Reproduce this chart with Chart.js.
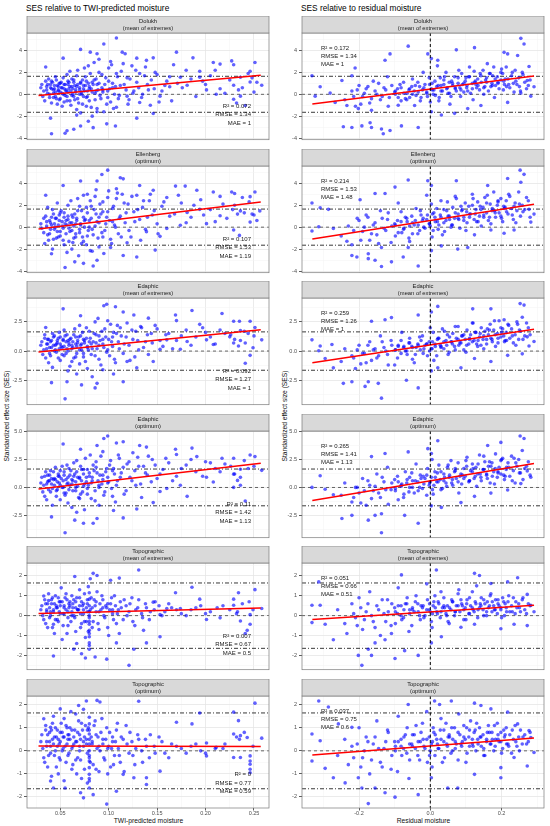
<!DOCTYPE html>
<html>
<head>
<meta charset="utf-8">
<script src="https://cdn.jsdelivr.net/npm/chart.js@4.4.1/dist/chart.umd.min.js"></script>
<style>
  body { margin: 0; background: #fff; font-family: "Liberation Sans", Arial, sans-serif; }
  #fig { position: relative; width: 550px; height: 826px; overflow: hidden; }
  .panel { position: absolute; }
  .txt { position: absolute; white-space: nowrap; color: #000; line-height: 1; }
  .ytitle { transform: translate(-50%, -50%) rotate(-90deg); }
  .xtitle { transform: translate(-50%, -50%); }
</style>
</head>
<body>
<div id="fig">
  <div class="txt" style="left:26px;top:3.5px;font-size:8.3px">SES relative to TWI-predicted moisture</div>
  <div class="txt" style="left:301px;top:3.5px;font-size:8.3px">SES relative to residual moisture</div>
  <div class="txt ytitle" style="left:7px;top:416px;font-size:6.7px;color:#111">Standardized effect size (SES)</div>
  <div class="txt ytitle" style="left:285px;top:416px;font-size:6.7px;color:#111">Standardized effect size (SES)</div>
  <div class="txt xtitle" style="left:148.5px;top:820.5px;font-size:6.7px;color:#111">TWI-predicted moisture</div>
  <div class="txt xtitle" style="left:423.5px;top:820.5px;font-size:6.7px;color:#111">Residual moisture</div>
</div>
<script>
// facet strips (one per row, same for both columns)
const stripLabels = [
  ['Dolukh', '(mean of extremes)'],
  ['Ellenberg', '(optimum)'],
  ['Edaphic', '(mean of extremes)'],
  ['Edaphic', '(optimum)'],
  ['Topographic', '(mean of extremes)'],
  ['Topographic', '(optimum)']
];

// y axis per row: limits, labelled step, minor step
const yLimits = [[-4.15, 5.6], [-4.15, 5.57], [-4.6, 4.55], [-4.5, 5.05], [-2.72, 2.65], [-2.48, 2.38]];
const yMajor = [2, 2, 2.5, 2.5, 1, 1];
const yMinor = [1, 1, 1.25, 1.25, 0.5, 0.5];

// x axis per column
const twiLimits = [0.0157, 0.2655];
const resLimits = [-0.36, 0.319];
const twiMajor = 0.05, twiMinor = 0.025;
const resMajor = 0.2, resMinor = 0.1;

// reference lines
const sesCutoffs = [-1.645, 1.645];

// fitted lines: x span and y at both ends
const twiFitX = [0.0276, 0.257];
const resFitX = [-0.331, 0.291];
const twiFitY = [[-0.1, 1.75], [-0.17, 2.29], [-0.08, 1.82], [-0.15, 2.16], [0.11, 0.38], [0.21, 0.19]];
const resFitY = [[-0.89, 1.66], [-1.07, 2.09], [-1.0, 1.87], [-1.17, 2.14], [-0.19, 0.52], [-0.18, 0.56]];

// fit statistics
const twiStats = [
  ['R² = 0.072', 'RMSE = 1.34', 'MAE = 1'],
  ['R² = 0.107', 'RMSE = 1.53', 'MAE = 1.19'],
  ['R² = 0.092', 'RMSE = 1.27', 'MAE = 1'],
  ['R² = 0.11', 'RMSE = 1.42', 'MAE = 1.13'],
  ['R² = 0.007', 'RMSE = 0.67', 'MAE = 0.5'],
  ['R² = 0', 'RMSE = 0.77', 'MAE = 0.59']
];
const resStats = [
  ['R² = 0.172', 'RMSE = 1.34', 'MAE = 1'],
  ['R² = 0.214', 'RMSE = 1.53', 'MAE = 1.48'],
  ['R² = 0.259', 'RMSE = 1.26', 'MAE = 1'],
  ['R² = 0.265', 'RMSE = 1.41', 'MAE = 1.13'],
  ['R² = 0.051', 'RMSE = 0.66', 'MAE = 0.51'],
  ['R² = 0.037', 'RMSE = 0.75', 'MAE = 0.6']
];

// ---- SES vs TWI-predicted moisture (x, y) ----
const twiDolukhMean = [
  [0.108,5.14],[0.095,4.6],[0.071,4.1],[0.053,3.3],[0.035,2.5],[0.081,3.85],[0.088,3.7],[0.114,3.85],[0.117,3.7],[0.102,3.0],
  [0.129,3.3],[0.139,3.1],[0.146,3.33],[0.170,3.85],[0.167,2.7],[0.187,3.33],[0.208,2.9],[0.215,2.76],[0.227,3.05],[0.229,2.7],
  [0.251,2.9],[0.246,2.1],[0.236,1.55],[0.194,2.1],[0.194,1.55],[0.181,0.83],[0.201,0.4],[0.211,0],[0.229,0.83],[0.234,0.4],
  [0.236,-0.17],[0.241,-1.03],[0.246,1.12],[0.258,0.83],[0.229,-0.46],[0.174,1.55],[0.163,0.69],[0.153,-0.17],[0.146,-1.75],[0.129,-2.18],
  [0.107,-2.9],[0.098,-2.7],[0.079,-2.47],[0.071,-2.9],[0.064,-3.2],[0.057,-3.33],[0.041,-3.6],[0.055,-3.56],[0.084,-3.05],[0.040,-2.18],
  [0.067,-1.9],[0.088,-1.6],[0.108,-1.18],[0.132,-0.75],[0.119,-0.17],
  [0.03,0.6],[0.032,-0.2],[0.035,1.2],[0.037,0.1],[0.04,0.9],[0.041,-0.8],[0.043,0.4],[0.045,1.6],[0.046,-0.4],[0.048,0.7],
  [0.05,0.2],[0.051,1.1],[0.052,-1.1],[0.054,0.5],[0.055,-0.1],[0.057,1.8],[0.058,0.9],[0.06,-0.6],[0.061,0.3],[0.062,1.4],
  [0.064,-0.2],[0.065,0.8],[0.067,-1.4],[0.068,2.2],[0.07,0.0],[0.071,1.0],[0.073,-0.9],[0.074,0.5],[0.076,1.6],[0.077,-0.3],
  [0.079,2.6],[0.08,0.7],[0.082,-1.2],[0.083,0.2],[0.085,1.3],[0.086,-0.5],[0.088,0.9],[0.09,2.0],[0.091,-0.1],[0.093,0.6],
  [0.095,-1.6],[0.097,1.5],[0.099,0.3],[0.1,2.4],[0.102,-0.7],[0.104,1.0],[0.106,0.0],[0.108,1.9],[0.11,-0.4],[0.112,0.8],
  [0.115,2.8],[0.118,0.4],[0.12,-0.9],[0.122,1.4],[0.125,0.1],[0.128,2.2],[0.131,0.6],[0.134,-0.3],[0.137,1.7],[0.14,0.9],
  [0.143,-1.0],[0.147,0.5],[0.15,1.8],[0.155,0.3],[0.16,1.2],[0.165,-0.6],[0.176,0.6],[0.185,1.4],[0.19,-0.2],[0.2,0.9],
  [0.205,1.7],[0.215,0.5],[0.225,1.3],[0.232,-0.8],[0.238,0.6],[0.244,1.9],[0.25,0.2],[0.253,1.1]
];
const twiDolukhMeanCore = [
  [0.031,0.9],[0.033,0.3],[0.034,-0.6],[0.036,0.7],[0.038,1.4],[0.039,0.0],[0.041,0.5],[0.042,1.1],[0.043,-0.3],[0.044,0.8],
  [0.045,0.2],[0.046,1.3],[0.047,-0.9],[0.048,0.4],[0.049,1.0],[0.05,-0.4],[0.051,0.6],[0.052,0.1],[0.053,1.5],[0.054,-0.7],
  [0.055,0.9],[0.056,0.3],[0.057,-0.2],[0.058,1.2],[0.059,0.5],[0.06,2.1],[0.061,-1.0],[0.062,0.7],[0.063,0.0],[0.064,1.1],
  [0.065,-0.5],[0.066,0.4],[0.067,1.7],[0.068,0.9],[0.069,-0.8],[0.07,0.6],[0.071,-1.7],[0.072,0.2],[0.073,1.3],[0.074,-0.2],
  [0.075,2.4],[0.076,0.8],[0.077,-1.1],[0.078,0.3],[0.079,1.0],[0.08,-0.6],[0.081,1.9],[0.082,0.5],[0.083,-2.0],[0.084,0.9],
  [0.085,2.9],[0.086,0.1],[0.087,1.4],[0.088,-1.3],[0.089,0.4],[0.09,3.2],[0.092,-0.4],[0.093,1.8],[0.094,0.2],[0.096,0.9],
  [0.098,-0.9],[0.1,1.2],[0.101,0.5],[0.103,2.7],[0.105,-1.3],[0.107,0.7],[0.109,1.6],[0.111,-0.1],[0.113,2.1],[0.116,0.9],
  [0.119,1.5],[0.121,-0.5],[0.124,2.6],[0.126,0.3],[0.129,1.1],[0.132,1.9],[0.135,0.0],[0.138,2.5],[0.141,0.4],[0.144,1.3],
  [0.148,2.0],[0.152,-0.7],[0.158,0.8],[0.163,1.6],[0.171,1.0],[0.18,2.2],[0.197,1.2],[0.21,2.2],[0.22,0.1],[0.248,1.5]
];
const twiDolukhMeanDense = [
  [0.036,0.4],[0.037,0.9],[0.039,-0.3],[0.04,0.6],[0.041,1.2],[0.043,0.1],[0.044,0.5],[0.045,-0.2],[0.047,0.8],[0.048,0.3],
  [0.049,-0.5],[0.05,1.0],[0.052,0.6],[0.053,0.0],[0.054,0.9],[0.056,0.4],[0.057,-0.6],[0.058,0.2],[0.059,1.1],[0.06,0.7],
  [0.062,-0.1],[0.063,0.5],[0.064,1.3],[0.066,0.2],[0.067,0.7],[0.068,-0.4],[0.07,0.4],[0.071,1.1],[0.072,0.0],[0.074,0.8],
  [0.075,0.3],[0.077,1.2],[0.078,-0.2],[0.08,0.5],[0.083,1.1],[0.087,0.3],[0.09,1.0],[0.094,0.4],[0.099,-0.3],[0.104,0.6]
];
const twiEllenbergOpt = [
  [0.099,5.19],[0.093,4.8],[0.071,4.2],[0.053,3.8],[0.035,2.9],[0.088,4.2],[0.112,4.5],[0.115,4.4],[0.108,3.5],[0.132,3.8],
  [0.146,3.36],[0.169,3.74],[0.179,3.74],[0.191,3.36],[0.208,3.2],[0.227,3.2],[0.23,3.07],[0.251,3.2],[0.246,2.78],[0.236,1.48],
  [0.233,1.19],[0.194,1.62],[0.201,0.32],[0.229,-0.26],[0.235,-0.75],[0.246,0.46],[0.248,1.19],[0.256,1.48],[0.215,1.04],[0.181,1.33],
  [0.174,0.17],[0.16,-0.12],[0.153,-0.84],[0.148,-2.09],[0.129,-2.72],[0.115,-2.58],[0.088,-3.01],[0.074,-3.3],[0.065,-3.16],[0.055,-3.68],
  [0.084,-3.54],[0.041,-2.43],[0.062,-2.0],[0.081,-2.14],[0.102,-1.86],[0.119,-1.42],[0.139,-0.41],
  [0.03,0.3],[0.033,-0.5],[0.035,1.0],[0.038,-1.2],[0.04,0.4],[0.042,1.6],[0.044,-0.2],[0.046,0.8],[0.048,-0.9],[0.05,1.3],
  [0.052,0.1],[0.054,-1.6],[0.056,0.6],[0.058,2.0],[0.06,-0.4],[0.062,1.1],[0.064,-1.0],[0.066,0.3],[0.068,2.6],[0.07,-0.2],
  [0.072,1.5],[0.074,-1.3],[0.076,0.7],[0.078,3.0],[0.08,0.0],[0.082,1.9],[0.084,-0.7],[0.086,2.8],[0.088,0.5],[0.09,-1.8],
  [0.092,1.2],[0.094,2.3],[0.096,-0.3],[0.098,0.9],[0.1,3.3],[0.102,-1.1],[0.104,1.7],[0.106,0.2],[0.108,2.6],[0.11,-0.6],
  [0.112,1.0],[0.114,3.0],[0.117,0.4],[0.12,2.1],[0.123,-0.9],[0.126,1.4],[0.129,2.9],[0.132,0.7],[0.135,1.8],[0.138,-0.2],
  [0.142,2.4],[0.145,1.1],[0.15,0.3],[0.155,1.9],[0.16,2.7],[0.168,1.2],[0.175,2.2],[0.185,0.9],[0.195,2.5],[0.205,1.6],
  [0.215,2.8],[0.222,0.8],[0.23,2.0],[0.24,1.3],[0.245,2.3],[0.253,0.6]
];
const twiEllenbergOptCore = [
  [0.031,-0.1],[0.033,0.8],[0.034,-1.5],[0.036,0.5],[0.037,1.8],[0.039,-0.6],[0.041,0.2],[0.042,-2.0],[0.043,1.2],[0.045,0.0],
  [0.046,-1.0],[0.047,2.2],[0.049,0.6],[0.05,-0.4],[0.051,1.5],[0.053,-1.2],[0.054,0.9],[0.055,0.3],[0.057,-2.3],[0.058,1.0],
  [0.059,-0.1],[0.061,2.4],[0.062,0.4],[0.063,-1.4],[0.065,1.2],[0.066,-0.6],[0.067,0.8],[0.069,-2.6],[0.07,1.9],[0.071,0.2],
  [0.073,-0.9],[0.074,2.9],[0.075,0.6],[0.077,-1.6],[0.078,1.3],[0.079,-0.3],[0.081,2.4],[0.082,0.8],[0.083,-2.2],[0.085,1.6],
  [0.086,0.1],[0.087,3.4],[0.089,-1.0],[0.09,0.9],[0.091,2.1],[0.093,-0.5],[0.094,1.4],[0.095,-2.4],[0.097,0.3],[0.099,2.7],
  [0.101,0.6],[0.103,-1.5],[0.105,1.9],[0.107,0.0],[0.109,3.1],[0.111,0.8],[0.113,-0.9],[0.116,2.2],[0.118,1.3],[0.121,-0.3],
  [0.124,2.8],[0.127,0.5],[0.13,1.6],[0.133,-1.2],[0.136,2.4],[0.14,0.9],[0.143,3.0],[0.147,1.5],[0.151,-0.6],[0.157,2.3],
  [0.163,1.0],[0.172,2.9],[0.18,0.4],[0.188,2.0],[0.198,1.1],[0.21,0.5],[0.218,2.1],[0.228,1.6],[0.238,2.7],[0.25,1.1]
];
const twiEllenbergOptDense = [
  [0.036,0.1],[0.037,-0.7],[0.039,0.6],[0.04,-0.2],[0.041,0.9],[0.043,-1.1],[0.044,0.3],[0.045,0.8],[0.047,-0.4],[0.048,0.2],
  [0.049,1.1],[0.05,-0.8],[0.052,0.5],[0.053,-0.1],[0.054,1.3],[0.056,-0.6],[0.057,0.2],[0.058,0.7],[0.059,-1.3],[0.06,0.4],
  [0.062,-0.3],[0.063,0.9],[0.064,0.1],[0.066,-0.9],[0.067,0.6],[0.068,1.5],[0.07,-0.5],[0.071,0.3],[0.072,-1.5],[0.074,0.9],
  [0.075,0.0],[0.077,1.8],[0.078,-0.8],[0.08,0.6],[0.083,-0.2],[0.087,1.2],[0.09,0.4],[0.094,-0.9],[0.099,1.4],[0.104,0.5]
];
const twiEdaphicMean = [
  [0.098,4.02],[0.095,3.88],[0.053,3.62],[0.071,3.03],[0.107,3.8],[0.115,3.35],[0.126,3.09],[0.035,2.02],[0.141,2.82],[0.169,3.09],
  [0.17,2.61],[0.186,3.48],[0.217,3.22],[0.194,2.29],[0.229,2.55],[0.235,2.55],[0.246,2.55],[0.251,2.02],[0.236,1.76],[0.225,1.22],
  [0.229,0.69],[0.234,0.43],[0.241,0.69],[0.246,-0.37],[0.241,-1.04],[0.249,0.29],[0.258,0.96],[0.201,0.96],[0.208,0.56],[0.181,0.82],
  [0.174,0.16],[0.16,0.96],[0.153,0.16],[0.146,-0.9],[0.129,-1.44],[0.115,-2.63],[0.088,-2.77],[0.072,-2.9],[0.057,-2.63],[0.041,-2.71],
  [0.086,-3.16],[0.055,-4.1],[0.067,-1.97],[0.105,-1.97],[0.119,-0.9],
  [0.03,0.5],[0.032,-0.3],[0.034,1.1],[0.036,0.2],[0.038,-1.0],[0.04,0.8],[0.042,1.5],[0.044,0.0],[0.046,0.6],[0.048,-0.6],
  [0.05,1.2],[0.052,0.3],[0.054,1.8],[0.056,-0.2],[0.058,0.9],[0.06,-1.3],[0.062,0.5],[0.064,1.4],[0.066,-0.5],[0.068,0.7],
  [0.07,2.2],[0.072,0.1],[0.074,1.0],[0.076,-0.9],[0.078,0.4],[0.08,1.7],[0.082,-0.3],[0.084,0.8],[0.086,2.5],[0.088,0.2],
  [0.09,1.3],[0.092,-1.2],[0.094,0.6],[0.096,1.9],[0.098,-0.1],[0.1,1.0],[0.102,2.3],[0.104,0.4],[0.106,-0.7],[0.108,1.5],
  [0.11,0.8],[0.112,2.0],[0.115,-0.2],[0.118,1.2],[0.121,0.5],[0.124,1.8],[0.127,-0.5],[0.13,0.9],[0.133,2.1],[0.136,0.3],
  [0.14,1.4],[0.145,0.7],[0.15,1.9],[0.156,0.4],[0.162,1.5],[0.17,0.9],[0.18,1.8],[0.19,1.2],[0.2,1.6],[0.21,0.6],
  [0.22,1.5],[0.23,1.0],[0.24,1.7],[0.25,1.3]
];
const twiEdaphicMeanCore = [
  [0.031,0.8],[0.033,0.1],[0.034,1.4],[0.035,-0.6],[0.037,0.6],[0.038,1.0],[0.039,-0.2],[0.041,0.3],[0.042,-1.4],[0.043,1.2],
  [0.045,0.5],[0.046,-0.1],[0.047,0.9],[0.049,1.6],[0.05,-0.8],[0.051,0.4],[0.053,0.9],[0.054,-0.4],[0.055,1.3],[0.057,0.2],
  [0.058,-1.7],[0.059,0.7],[0.061,1.1],[0.062,-0.9],[0.063,0.3],[0.065,1.9],[0.066,0.6],[0.067,-0.2],[0.069,1.2],[0.07,-1.1],
  [0.071,0.5],[0.073,1.6],[0.074,-0.5],[0.075,0.9],[0.077,2.0],[0.078,-1.5],[0.079,0.1],[0.081,1.1],[0.082,0.6],[0.083,-2.2],
  [0.085,1.5],[0.086,-0.4],[0.087,0.7],[0.089,2.8],[0.09,-0.7],[0.091,0.9],[0.093,1.7],[0.094,-1.6],[0.095,0.3],[0.097,1.2],
  [0.099,2.6],[0.101,-0.4],[0.103,0.8],[0.105,1.6],[0.107,-1.0],[0.109,2.2],[0.111,0.2],[0.113,1.3],[0.116,0.6],[0.119,2.4],
  [0.122,-0.8],[0.125,1.0],[0.128,1.7],[0.131,0.1],[0.134,2.0],[0.138,0.8],[0.141,-0.3],[0.144,1.5],[0.148,2.2],[0.153,0.9],
  [0.159,1.4],[0.166,0.2],[0.175,1.3],[0.185,0.5],[0.197,2.0],[0.205,1.2],[0.215,1.8],[0.226,1.4],[0.236,0.9],[0.244,1.5]
];
const twiEdaphicMeanDense = [
  [0.036,0.6],[0.037,1.0],[0.039,0.3],[0.04,-0.4],[0.041,0.9],[0.043,0.5],[0.044,1.3],[0.045,0.1],[0.047,0.7],[0.048,1.1],
  [0.049,0.2],[0.05,0.6],[0.052,-0.3],[0.053,1.0],[0.054,0.4],[0.056,0.8],[0.057,1.4],[0.058,0.0],[0.059,0.5],[0.06,1.0],
  [0.062,0.2],[0.063,0.8],[0.064,-0.6],[0.066,1.2],[0.067,0.4],[0.068,0.9],[0.07,0.1],[0.071,1.3],[0.072,0.6],[0.074,-0.2],
  [0.075,0.7],[0.077,1.1],[0.078,0.3],[0.08,0.8],[0.083,0.2],[0.087,1.4],[0.09,0.5],[0.094,1.0],[0.099,0.1],[0.104,1.2]
];
const twiEdaphicOpt = [
  [0.099,4.6],[0.095,4.38],[0.115,4.09],[0.108,3.98],[0.053,3.89],[0.071,3.41],[0.088,3.75],[0.132,3.75],[0.139,3.61],[0.169,3.41],
  [0.17,2.95],[0.186,3.52],[0.191,2.76],[0.217,2.61],[0.229,2.61],[0.246,2.9],[0.251,2.76],[0.236,1.62],[0.229,1.19],[0.233,0.63],
  [0.229,0.0],[0.236,0.2],[0.241,-1.22],[0.258,1.53],[0.201,0.91],[0.208,0.48],[0.181,-0.8],[0.174,0.2],[0.16,-0.09],[0.153,-0.37],
  [0.146,-1.36],[0.129,-1.93],[0.115,-2.73],[0.088,-2.78],[0.074,-3.21],[0.065,-2.93],[0.055,-4.06],[0.041,-2.64],[0.084,-3.21],[0.105,-2.07],
  [0.067,-2.22],
  [0.03,0.4],[0.032,-0.4],[0.034,1.0],[0.036,-1.1],[0.038,0.6],[0.04,1.5],[0.042,-0.1],[0.044,0.8],[0.046,-0.8],[0.048,1.2],
  [0.05,0.2],[0.052,1.9],[0.054,-0.5],[0.056,0.7],[0.058,-1.4],[0.06,1.1],[0.062,0.3],[0.064,2.2],[0.066,-0.3],[0.068,0.9],
  [0.07,-1.0],[0.072,1.6],[0.074,0.1],[0.076,2.6],[0.078,-0.6],[0.08,1.0],[0.082,0.4],[0.084,2.0],[0.086,-1.2],[0.088,1.3],
  [0.09,0.0],[0.092,2.8],[0.094,0.7],[0.096,-0.4],[0.098,1.7],[0.1,0.5],[0.102,2.4],[0.104,-0.8],[0.106,1.2],[0.108,0.2],
  [0.11,2.9],[0.112,0.9],[0.115,1.8],[0.118,-0.3],[0.121,2.3],[0.124,0.6],[0.127,1.5],[0.13,2.7],[0.133,0.3],[0.136,1.9],
  [0.14,1.1],[0.145,2.5],[0.15,0.8],[0.156,1.6],[0.162,2.2],[0.17,1.0],[0.18,2.0],[0.19,1.4],[0.2,2.3],[0.21,1.7],
  [0.22,2.1],[0.23,1.2],[0.24,2.4],[0.25,1.9]
];
const twiEdaphicOptCore = [
  [0.031,0.9],[0.033,0.2],[0.034,-0.8],[0.035,1.4],[0.037,0.5],[0.038,-0.2],[0.039,1.1],[0.041,0.3],[0.042,-1.6],[0.043,0.7],
  [0.045,1.8],[0.046,-0.3],[0.047,0.5],[0.049,1.0],[0.05,-1.1],[0.051,0.8],[0.053,0.0],[0.054,1.4],[0.055,-0.7],[0.057,2.0],
  [0.058,0.4],[0.059,-0.2],[0.061,1.5],[0.062,-1.8],[0.063,0.6],[0.065,1.2],[0.066,0.0],[0.067,2.4],[0.069,-0.9],[0.07,0.8],
  [0.071,1.9],[0.073,-0.4],[0.074,1.2],[0.075,-2.0],[0.077,0.5],[0.078,1.6],[0.079,0.2],[0.081,2.9],[0.082,-1.0],[0.083,0.9],
  [0.085,1.5],[0.086,-0.3],[0.087,2.3],[0.089,0.6],[0.09,-1.6],[0.091,1.1],[0.093,0.3],[0.094,3.2],[0.095,-0.7],[0.097,1.4],
  [0.099,0.9],[0.101,2.0],[0.103,-0.1],[0.105,1.7],[0.107,-1.3],[0.109,0.6],[0.111,2.6],[0.113,1.3],[0.116,-0.6],[0.119,2.1],
  [0.122,0.9],[0.125,3.1],[0.128,0.2],[0.131,1.9],[0.134,-0.9],[0.138,1.3],[0.141,2.8],[0.144,0.5],[0.148,2.0],[0.153,1.2],
  [0.159,2.6],[0.166,0.6],[0.175,1.7],[0.185,2.5],[0.197,1.0],[0.205,2.2],[0.215,1.4],[0.226,1.9],[0.236,0.9],[0.244,1.7]
];
const twiEdaphicOptDense = [
  [0.036,0.3],[0.037,1.1],[0.039,0.6],[0.04,-0.4],[0.041,0.8],[0.043,1.4],[0.044,0.2],[0.045,0.7],[0.047,-0.2],[0.048,1.0],
  [0.049,0.4],[0.05,1.5],[0.052,0.0],[0.053,0.6],[0.054,1.1],[0.056,-0.5],[0.057,0.3],[0.058,0.9],[0.059,1.7],[0.06,0.2],
  [0.062,0.7],[0.063,-0.3],[0.064,1.0],[0.066,0.5],[0.067,1.4],[0.068,0.1],[0.07,0.9],[0.071,-0.6],[0.072,0.6],[0.074,1.6],
  [0.075,0.3],[0.077,0.9],[0.078,-0.1],[0.08,1.3],[0.083,0.6],[0.087,1.8],[0.09,0.2],[0.094,1.1],[0.099,0.4],[0.104,1.5]
];
const twiTopoMean = [
  [0.131,2.3],[0.084,2.13],[0.088,2.02],[0.065,1.97],[0.081,1.86],[0.111,1.89],[0.102,1.78],[0.033,0.99],[0.038,0.76],[0.043,-0.43],
  [0.043,-2.03],[0.064,-1.69],[0.072,-1.92],[0.08,-1.69],[0.08,-1.37],[0.08,-1.06],[0.08,-0.74],[0.08,-0.43],[0.08,-0.11],[0.08,0.2],
  [0.08,0.83],[0.08,1.15],[0.079,1.46],[0.076,-2.13],[0.086,-2.08],[0.098,-2.19],[0.121,-2.5],[0.108,-1.37],[0.126,-1.69],[0.139,-1.37],
  [0.153,-1.06],[0.136,-0.74],[0.186,1.43],[0.169,1.15],[0.194,0.83],[0.174,0.36],[0.201,-0.19],[0.215,-0.11],[0.229,0.83],[0.234,1.15],
  [0.229,0.52],[0.233,0.2],[0.236,-0.27],[0.243,-0.74],[0.241,-0.9],[0.251,1.31],[0.246,0.05],[0.258,0.36],[0.246,-0.43],[0.153,0.05],
  [0.16,0.36],[0.146,0.68],
  [0.03,0.3],[0.033,-0.2],[0.035,0.6],[0.037,-0.6],[0.04,0.2],[0.042,0.9],[0.044,-0.9],[0.046,0.4],[0.048,-0.3],[0.05,0.7],
  [0.052,-1.2],[0.054,0.1],[0.056,1.1],[0.058,-0.5],[0.06,0.5],[0.062,0.0],[0.064,0.8],[0.066,-0.8],[0.068,0.3],[0.07,1.3],
  [0.072,-0.4],[0.074,0.6],[0.076,-1.1],[0.078,0.2],[0.082,0.9],[0.084,-0.3],[0.086,0.5],[0.088,1.2],[0.09,-0.7],[0.092,0.3],
  [0.094,0.8],[0.096,-0.1],[0.098,0.4],[0.1,-1.0],[0.102,0.6],[0.104,0.1],[0.106,1.0],[0.108,-0.4],[0.11,0.3],[0.112,0.7],
  [0.115,-0.2],[0.118,0.5],[0.121,0.2],[0.124,0.9],[0.127,-0.5],[0.13,0.4],[0.134,0.1],[0.138,0.6],[0.142,-0.2],[0.147,0.3],
  [0.152,0.5],[0.158,0.2],[0.165,0.4],[0.175,0.1],[0.185,0.3],[0.195,0.5],[0.205,0.2],[0.212,0.4],[0.225,0.3],[0.238,0.6],
  [0.245,0.7]
];
const twiTopoMeanCore = [
  [0.031,0.5],[0.032,0.0],[0.034,0.8],[0.035,-0.4],[0.036,0.3],[0.038,1.1],[0.039,-0.1],[0.041,0.6],[0.042,-0.6],[0.043,0.2],
  [0.045,1.0],[0.046,0.5],[0.047,-0.2],[0.049,0.7],[0.05,0.1],[0.051,1.4],[0.053,-0.5],[0.054,0.4],[0.055,0.9],[0.057,-0.9],
  [0.058,0.2],[0.059,0.6],[0.061,-0.3],[0.062,1.0],[0.063,0.4],[0.065,-0.1],[0.066,0.7],[0.067,-1.4],[0.069,0.3],[0.07,0.9],
  [0.071,-0.6],[0.073,0.5],[0.074,0.1],[0.075,1.1],[0.077,-0.3],[0.078,0.6],[0.079,-0.8],[0.08,0.5],[0.08,-0.3],[0.08,0.0],
  [0.08,-0.9],[0.08,-1.5],[0.081,0.3],[0.083,-0.6],[0.085,0.8],[0.087,0.2],[0.089,-0.4],[0.091,0.6],[0.093,1.0],[0.095,0.0],
  [0.097,0.5],[0.099,-0.6],[0.101,0.3],[0.103,0.9],[0.105,-0.2],[0.107,0.5],[0.109,0.1],[0.111,-0.9],[0.113,0.4],[0.116,0.8],
  [0.119,0.0],[0.122,0.6],[0.125,-0.3],[0.128,0.3],[0.131,0.8],[0.135,-0.1],[0.139,0.4],[0.143,0.2],[0.148,0.7],[0.155,0.0],
  [0.162,0.6],[0.17,0.3],[0.18,0.0],[0.19,0.4],[0.2,0.1],[0.218,0.5],[0.232,0.1],[0.249,0.3]
];
const twiTopoMeanDense = [
  [0.036,0.2],[0.037,0.6],[0.039,0.4],[0.04,0.0],[0.041,0.8],[0.043,0.3],[0.044,0.6],[0.045,-0.2],[0.047,0.4],[0.048,0.9],
  [0.049,0.2],[0.05,0.5],[0.052,0.7],[0.053,0.1],[0.054,0.5],[0.056,0.3],[0.057,0.8],[0.058,-0.1],[0.059,0.4],[0.06,0.7],
  [0.062,0.2],[0.063,0.6],[0.064,0.0],[0.066,0.4],[0.067,0.9],[0.068,0.3],[0.07,0.5],[0.071,0.1],[0.072,0.7],[0.074,0.3],
  [0.075,-0.3],[0.077,0.4],[0.078,0.8],[0.08,0.2],[0.083,0.4],[0.087,0.7],[0.09,0.2],[0.094,0.4],[0.099,0.6],[0.104,0.3]
];
const twiTopoOpt = [
  [0.131,2.15],[0.077,2.16],[0.088,2.19],[0.091,2.12],[0.069,1.97],[0.05,1.82],[0.033,1.39],[0.04,1.02],[0.251,2.07],[0.194,1.64],
  [0.229,1.68],[0.234,1.31],[0.229,0.73],[0.236,0.66],[0.243,0.58],[0.258,0.55],[0.17,1.24],[0.186,1.17],[0.201,0.34],[0.211,0.15],
  [0.201,-0.22],[0.229,-0.29],[0.246,-0.22],[0.246,-0.44],[0.246,-0.58],[0.246,-0.8],[0.246,-0.95],[0.236,-0.29],[0.153,-0.88],[0.139,-1.17],
  [0.139,-1.46],[0.126,-1.17],[0.115,-1.02],[0.098,-2.31],[0.074,-2.04],[0.055,-1.61],[0.043,-1.61],[0.04,-1.31],[0.08,-1.61],[0.08,-1.31],
  [0.08,-1.02],[0.08,-0.73],[0.08,-0.44],[0.08,0.29],[0.08,0.73],[0.08,1.17],[0.08,1.46],[0.084,-1.9],[0.071,-1.82],[0.108,-1.75],
  [0.03,0.4],[0.033,-0.3],[0.035,0.9],[0.037,-0.7],[0.04,0.2],[0.042,1.2],[0.044,-0.2],[0.046,0.6],[0.048,-1.0],[0.05,0.8],
  [0.052,0.0],[0.054,1.4],[0.056,-0.5],[0.058,0.5],[0.06,1.0],[0.062,-0.8],[0.064,0.3],[0.066,1.6],[0.068,-0.3],[0.07,0.7],
  [0.072,-1.2],[0.074,0.4],[0.076,1.1],[0.078,-0.1],[0.082,0.6],[0.084,-0.6],[0.086,1.3],[0.088,0.1],[0.09,-0.9],[0.092,0.8],
  [0.094,0.3],[0.096,-0.4],[0.098,1.0],[0.1,0.2],[0.102,-0.7],[0.104,0.6],[0.106,-0.2],[0.108,0.9],[0.11,0.1],[0.112,-0.5],
  [0.115,0.5],[0.118,1.1],[0.121,-0.1],[0.124,0.4],[0.127,-0.6],[0.13,0.7],[0.134,0.0],[0.138,0.5],[0.142,-0.3],[0.147,0.2],
  [0.152,0.6],[0.158,-0.1],[0.165,0.3],[0.175,0.1],[0.185,0.2],[0.195,0.0],[0.21,0.1],[0.22,0.3],[0.235,0.5],[0.24,0.8]
];
const twiTopoOptCore = [
  [0.031,0.7],[0.032,0.1],[0.034,-0.5],[0.035,1.1],[0.036,0.4],[0.038,-0.2],[0.039,0.8],[0.041,-1.1],[0.042,0.5],[0.043,1.5],
  [0.045,0.0],[0.046,-0.7],[0.047,0.9],[0.049,0.3],[0.05,-0.4],[0.051,1.2],[0.053,0.6],[0.054,-1.3],[0.055,0.2],[0.057,1.0],
  [0.058,-0.2],[0.059,0.7],[0.061,1.7],[0.062,0.1],[0.063,-0.6],[0.065,0.9],[0.066,0.4],[0.067,-1.0],[0.069,1.3],[0.07,0.2],
  [0.071,-0.4],[0.073,0.9],[0.074,1.8],[0.075,-0.8],[0.077,0.5],[0.078,-1.4],[0.079,1.0],[0.08,0.0],[0.08,0.5],[0.08,-0.2],
  [0.08,-1.2],[0.08,0.9],[0.081,-0.5],[0.083,0.3],[0.085,1.1],[0.087,-0.8],[0.089,0.6],[0.091,0.0],[0.093,1.4],[0.095,-0.3],
  [0.097,0.5],[0.099,-1.0],[0.101,0.8],[0.103,0.1],[0.105,-0.6],[0.107,0.4],[0.109,1.2],[0.111,-0.2],[0.113,0.6],[0.116,-0.9],
  [0.119,0.3],[0.122,0.8],[0.125,-0.2],[0.128,0.1],[0.131,0.5],[0.135,-0.5],[0.139,0.2],[0.143,0.7],[0.148,-0.1],[0.155,0.4],
  [0.162,-0.3],[0.17,0.2],[0.18,-0.1],[0.19,0.3],[0.2,-0.1],[0.218,0.1],[0.232,0.6],[0.249,0.2]
];
const twiTopoOptDense = [
  [0.036,0.2],[0.037,0.7],[0.039,0.4],[0.04,-0.1],[0.041,0.9],[0.043,0.3],[0.044,0.6],[0.045,1.0],[0.047,0.2],[0.048,0.5],
  [0.049,-0.3],[0.05,0.4],[0.052,0.8],[0.053,0.1],[0.054,0.6],[0.056,1.1],[0.057,0.3],[0.058,0.7],[0.059,-0.1],[0.06,0.5],
  [0.062,0.9],[0.063,0.2],[0.064,0.6],[0.066,-0.4],[0.067,0.4],[0.068,0.8],[0.07,0.0],[0.071,0.5],[0.072,1.2],[0.074,0.2],
  [0.075,0.6],[0.077,0.3],[0.078,0.9],[0.08,-0.3],[0.083,0.4],[0.087,0.7],[0.09,0.2],[0.094,0.5],[0.099,0.1],[0.104,0.4]
];

// ---- SES vs residual moisture (x, y) ----
const resDolukhMean = [
  [0.254,5.11],[0.263,4.6],[0.124,4.26],[0.073,4.06],[-0.062,4.4],[-0.127,3.11],[-0.113,3.69],[-0.007,3.69],[0.003,3.26],[0.021,3.11],
  [0.207,3.83],[0.217,3.69],[0.245,3.54],[0.277,2.54],[-0.332,1.69],[-0.309,0.69],[-0.323,-0.17],[-0.281,0.11],[-0.248,1.26],[-0.22,1.69],
  [-0.211,2.4],[-0.244,-2.97],[-0.22,-3.03],[-0.192,-2.89],[-0.169,-2.6],[-0.165,-3.03],[-0.137,-3.17],[-0.113,-3.31],[-0.132,-3.6],[-0.081,-2.89],
  [-0.034,-3.03],[-0.044,-1.03],[0.003,-1.6],[0.031,-1.89],[0.068,-1.74],[0.105,-1.31],[0.142,-1.03],[0.217,-0.74],[0.254,0.11],[0.282,-0.17],
  [0.272,1.26],[0.291,0.69],[-0.165,-1.46],[-0.202,-1.31],[-0.267,-0.74],[-0.234,-1.03],
  [-0.24,-0.5],[-0.22,0.3],[-0.21,-1.1],[-0.2,0.8],[-0.19,-0.2],[-0.18,0.5],[-0.17,-0.8],[-0.16,1.2],[-0.15,0.0],[-0.14,-0.5],
  [-0.13,0.6],[-0.12,1.6],[-0.115,-0.3],[-0.1,0.2],[-0.09,-1.0],[-0.085,0.9],[-0.07,-0.4],[-0.06,0.4],[-0.05,1.4],[-0.04,-0.1],
  [-0.03,0.7],[-0.02,2.0],[-0.01,0.2],[0.0,-0.7],[0.005,1.0],[0.01,0.4],[0.02,2.6],[0.025,-0.3],[0.03,0.8],[0.04,1.6],
  [0.05,0.1],[0.055,-0.9],[0.06,1.2],[0.07,0.5],[0.08,2.2],[0.085,-0.2],[0.09,0.9],[0.1,1.5],[0.105,0.3],[0.11,2.5],
  [0.12,-0.5],[0.125,1.1],[0.13,0.6],[0.14,1.9],[0.15,0.0],[0.155,1.3],[0.16,2.8],[0.17,0.7],[0.175,1.7],[0.18,-0.3],
  [0.19,1.1],[0.2,2.3],[0.205,0.4],[0.21,1.4],[0.22,0.9],[0.23,2.0],[0.235,0.2],[0.24,1.2],[0.25,0.7],[0.26,1.8],
  [0.27,0.5],[0.28,1.3]
];
const resDolukhMeanCore = [
  [-0.215,-0.2],[-0.205,0.4],[-0.195,-0.9],[-0.185,0.1],[-0.175,0.7],[-0.165,-0.4],[-0.155,0.3],[-0.145,1.0],[-0.135,-0.2],[-0.125,0.4],
  [-0.118,-1.1],[-0.108,0.8],[-0.098,0.0],[-0.092,0.5],[-0.082,-0.6],[-0.075,1.1],[-0.065,0.1],[-0.058,-0.3],[-0.052,0.7],[-0.045,0.3],
  [-0.035,1.1],[-0.028,-0.6],[-0.022,0.4],[-0.015,0.9],[-0.008,-0.2],[-0.003,1.5],[0.003,0.5],[0.008,0.0],[0.013,1.2],[0.018,0.7],
  [0.024,-0.6],[0.028,1.5],[0.034,0.3],[0.038,0.9],[0.044,2.0],[0.048,0.6],[0.053,1.1],[0.058,-0.2],[0.063,0.8],[0.068,1.6],
  [0.073,0.3],[0.078,1.0],[0.083,0.6],[0.088,1.9],[0.094,0.2],[0.098,1.2],[0.103,0.8],[0.108,1.6],[0.113,0.1],[0.118,1.0],
  [0.123,2.1],[0.128,0.9],[0.133,1.4],[0.138,0.4],[0.143,1.1],[0.148,2.2],[0.153,0.7],[0.158,1.5],[0.163,0.3],[0.168,1.9],
  [0.173,1.0],[0.178,2.5],[0.183,0.8],[0.188,1.6],[0.193,0.5],[0.198,1.3],[0.203,1.9],[0.208,0.9],[0.213,2.5],[0.218,1.4],
  [0.223,0.6],[0.228,1.7],[0.233,1.0],[0.238,2.2],[0.243,0.9],[0.248,1.5],[0.253,0.3],[0.258,2.0],[0.265,1.1],[0.275,0.8]
];
const resDolukhMeanDense = [
  [-0.098,0.3],[-0.09,-0.3],[-0.082,0.6],[-0.074,0.1],[-0.066,-0.5],[-0.058,0.5],[-0.05,0.0],[-0.042,0.8],[-0.034,0.2],[-0.026,-0.3],
  [-0.018,0.6],[-0.01,0.1],[-0.002,0.9],[0.006,0.4],[0.014,-0.1],[0.022,0.8],[0.03,0.3],[0.038,1.3],[0.046,0.5],[0.054,0.1],
  [0.062,1.0],[0.07,0.6],[0.078,1.5],[0.086,0.4],[0.094,1.0],[0.102,0.6],[0.11,1.6],[0.118,0.5],[0.126,1.2],[0.134,0.8],
  [0.142,1.7],[0.15,0.6],[0.158,1.1],[0.166,1.9],[0.174,0.8],[0.182,1.4],[0.19,1.0],[0.198,2.0],[0.206,1.2],[0.214,0.7]
];
const resEllenbergOpt = [
  [0.252,5.19],[0.263,4.81],[0.254,4.09],[0.217,4.43],[0.161,3.8],[0.073,4.23],[-0.007,4.23],[0.003,3.8],[-0.062,4.29],[-0.099,3.65],
  [-0.127,3.07],[-0.155,3.07],[-0.197,2.49],[-0.332,2.2],[-0.309,1.77],[-0.286,1.62],[-0.332,-0.35],[-0.313,0.03],[-0.272,-0.12],[-0.234,-1.28],
  [-0.22,-2.58],[-0.206,-2.72],[-0.174,-2.43],[-0.174,-2.87],[-0.155,-3.01],[-0.137,-3.59],[-0.109,-3.16],[-0.076,-2.72],[-0.034,-3.54],[0.003,-2.14],
  [0.031,-1.71],[0.077,-2.0],[0.105,-1.86],[0.207,-0.55],[0.235,-0.26],[0.282,0.46],[0.291,1.19],[0.277,1.62],[0.235,1.91],[0.17,-0.26],
  [0.124,-0.7],[-0.062,-1.86],[-0.137,-1.86],
  [-0.25,-0.8],[-0.23,0.1],[-0.22,-1.6],[-0.2,0.6],[-0.19,-0.4],[-0.18,1.1],[-0.17,-1.2],[-0.16,0.2],[-0.15,-0.7],[-0.14,1.5],
  [-0.13,-0.1],[-0.12,0.7],[-0.11,-1.4],[-0.1,0.3],[-0.09,2.2],[-0.08,-0.5],[-0.07,0.9],[-0.06,-1.0],[-0.05,0.4],[-0.04,1.7],
  [-0.03,-0.3],[-0.02,0.8],[-0.01,2.9],[0.0,0.1],[0.005,-0.9],[0.01,1.3],[0.02,0.5],[0.03,2.4],[0.04,-0.4],[0.05,1.0],
  [0.06,0.2],[0.07,2.8],[0.08,0.7],[0.09,1.6],[0.1,-0.3],[0.11,1.2],[0.12,2.6],[0.13,0.5],[0.14,1.9],[0.15,0.9],
  [0.16,2.9],[0.17,0.3],[0.18,1.5],[0.19,2.3],[0.2,0.8],[0.21,1.8],[0.22,3.0],[0.23,1.1],[0.24,0.4],[0.25,2.1],
  [0.26,1.4],[0.27,2.7],[0.28,0.9]
];
const resEllenbergOptCore = [
  [-0.215,-0.3],[-0.205,0.8],[-0.195,-1.2],[-0.185,0.0],[-0.175,0.9],[-0.165,-0.6],[-0.155,0.4],[-0.145,-1.5],[-0.135,0.8],[-0.125,-0.3],
  [-0.118,1.3],[-0.108,0.1],[-0.098,-0.8],[-0.092,0.6],[-0.082,1.4],[-0.075,-0.2],[-0.065,0.5],[-0.058,-1.3],[-0.052,1.0],[-0.045,0.2],
  [-0.035,-0.6],[-0.028,1.5],[-0.022,0.6],[-0.015,-0.1],[-0.008,1.1],[-0.003,0.3],[0.003,2.1],[0.008,-0.3],[0.013,0.9],[0.018,1.7],
  [0.024,0.2],[0.028,1.1],[0.034,-0.7],[0.038,1.6],[0.044,0.6],[0.048,2.3],[0.053,1.0],[0.058,0.0],[0.063,1.8],[0.068,0.8],
  [0.073,2.6],[0.078,1.2],[0.083,-0.1],[0.088,1.5],[0.094,0.9],[0.098,2.2],[0.103,0.4],[0.108,1.9],[0.113,1.2],[0.118,3.0],
  [0.123,0.7],[0.128,1.6],[0.133,2.3],[0.138,1.0],[0.143,0.1],[0.148,1.8],[0.153,2.7],[0.158,1.3],[0.163,0.6],[0.168,2.1],
  [0.173,1.5],[0.178,3.2],[0.183,0.9],[0.188,2.0],[0.193,1.3],[0.198,2.6],[0.203,0.5],[0.208,1.7],[0.213,2.4],[0.218,1.2],
  [0.223,2.8],[0.228,1.7],[0.233,0.7],[0.238,2.2],[0.243,1.5],[0.248,3.2],[0.253,1.0],[0.258,2.0],[0.265,1.6],[0.275,2.4]
];
const resEllenbergOptDense = [
  [-0.098,0.2],[-0.09,-0.5],[-0.082,0.5],[-0.074,-0.1],[-0.066,0.8],[-0.058,0.1],[-0.05,-0.6],[-0.042,0.6],[-0.034,0.2],[-0.026,1.1],
  [-0.018,0.0],[-0.01,0.7],[-0.002,0.3],[0.006,1.2],[0.014,0.5],[0.022,-0.2],[0.03,0.9],[0.038,0.4],[0.046,1.5],[0.054,0.7],
  [0.062,0.2],[0.07,1.3],[0.078,0.8],[0.086,1.9],[0.094,0.6],[0.102,1.4],[0.11,0.9],[0.118,2.0],[0.126,1.2],[0.134,0.5],
  [0.142,1.6],[0.15,1.1],[0.158,2.2],[0.166,0.9],[0.174,1.7],[0.182,1.3],[0.19,2.4],[0.198,1.0],[0.206,1.9],[0.214,1.4]
];
const resEdaphicMean = [
  [0.252,4.07],[0.263,3.94],[0.17,3.62],[0.119,3.62],[0.021,3.83],[0.003,3.35],[-0.034,3.09],[-0.127,2.69],[-0.109,2.87],[-0.165,2.55],
  [-0.332,0.96],[-0.309,0.43],[-0.313,0.03],[-0.276,0.56],[-0.295,-0.64],[-0.272,-1.44],[-0.244,-2.77],[-0.22,-2.63],[-0.183,-3.03],[-0.174,-2.63],
  [-0.146,-2.77],[-0.137,-4.04],[-0.067,-2.5],[-0.034,-3.16],[0.003,-1.7],[0.021,-1.44],[0.086,-1.44],[0.124,-0.64],[0.17,-0.9],[0.217,-0.37],
  [0.258,-0.24],[0.277,0.43],[0.291,0.82],[0.272,1.22],[0.245,2.29],[0.207,2.69],
  [-0.25,-0.9],[-0.24,0.2],[-0.22,-0.4],[-0.21,-1.5],[-0.2,0.5],[-0.19,-0.2],[-0.18,-1.0],[-0.17,0.8],[-0.16,0.1],[-0.15,-0.6],
  [-0.14,1.3],[-0.13,0.3],[-0.12,-0.3],[-0.11,0.9],[-0.1,-1.2],[-0.09,0.4],[-0.08,1.6],[-0.07,0.0],[-0.06,0.7],[-0.05,-0.7],
  [-0.04,0.3],[-0.03,1.2],[-0.02,-0.2],[-0.01,0.6],[0.0,2.0],[0.005,0.2],[0.01,-0.8],[0.02,1.0],[0.03,0.4],[0.04,1.7],
  [0.05,-0.3],[0.06,0.8],[0.07,2.1],[0.08,0.5],[0.09,1.3],[0.1,-0.1],[0.11,1.0],[0.12,2.4],[0.13,0.6],[0.14,1.5],
  [0.15,0.2],[0.16,1.9],[0.17,1.1],[0.18,2.6],[0.19,0.7],[0.2,1.6],[0.21,0.9],[0.22,2.2],[0.23,1.3],[0.24,0.5],
  [0.25,1.8],[0.26,1.0],[0.27,2.4],[0.28,1.4]
];
const resEdaphicMeanCore = [
  [-0.215,-0.6],[-0.205,0.1],[-0.195,-1.1],[-0.185,-0.2],[-0.175,0.5],[-0.165,-0.8],[-0.155,0.2],[-0.145,-0.4],[-0.135,0.8],[-0.125,0.0],
  [-0.118,-1.2],[-0.108,0.5],[-0.098,0.1],[-0.092,-0.6],[-0.082,0.9],[-0.075,0.3],[-0.065,-0.3],[-0.058,1.1],[-0.052,0.4],[-0.045,-1.0],
  [-0.035,0.6],[-0.028,0.1],[-0.022,1.3],[-0.015,0.5],[-0.008,-0.4],[-0.003,0.8],[0.003,0.2],[0.008,1.6],[0.013,0.6],[0.018,-0.4],
  [0.024,1.1],[0.028,0.5],[0.034,1.9],[0.038,0.2],[0.044,0.9],[0.048,1.4],[0.053,-0.1],[0.058,0.8],[0.063,1.5],[0.068,0.4],
  [0.073,1.1],[0.078,2.1],[0.083,0.7],[0.088,1.3],[0.094,0.1],[0.098,1.0],[0.103,1.8],[0.108,0.6],[0.113,1.4],[0.118,2.4],
  [0.123,0.9],[0.128,1.6],[0.133,0.4],[0.138,1.2],[0.143,2.0],[0.148,1.0],[0.153,1.7],[0.158,0.6],[0.163,1.4],[0.168,2.3],
  [0.173,1.0],[0.178,1.8],[0.183,0.4],[0.188,1.5],[0.193,2.6],[0.198,1.2],[0.203,1.9],[0.208,0.8],[0.213,1.6],[0.218,2.3],
  [0.223,1.1],[0.228,1.9],[0.233,0.7],[0.238,1.4],[0.243,2.5],[0.248,1.0],[0.253,1.7],[0.258,2.9],[0.265,1.3],[0.275,2.0]
];
const resEdaphicMeanDense = [
  [-0.098,0.1],[-0.09,0.5],[-0.082,-0.2],[-0.074,0.4],[-0.066,0.0],[-0.058,0.7],[-0.05,0.3],[-0.042,-0.3],[-0.034,0.5],[-0.026,0.9],
  [-0.018,0.2],[-0.01,0.6],[-0.002,0.0],[0.006,0.8],[0.014,0.4],[0.022,1.1],[0.03,0.3],[0.038,0.8],[0.046,0.5],[0.054,1.2],
  [0.062,0.6],[0.07,0.1],[0.078,1.0],[0.086,0.7],[0.094,1.4],[0.102,0.5],[0.11,1.1],[0.118,0.8],[0.126,1.6],[0.134,0.9],
  [0.142,0.5],[0.15,1.3],[0.158,1.0],[0.166,1.8],[0.174,0.8],[0.182,1.4],[0.19,1.1],[0.198,2.0],[0.206,1.3],[0.214,0.9]
];
const resEdaphicOpt = [
  [0.252,4.6],[0.263,4.38],[0.198,4.03],[0.161,3.75],[0.021,4.18],[-0.007,3.47],[0.003,3.04],[-0.062,3.18],[-0.127,3.04],[-0.165,2.76],
  [-0.332,0.0],[-0.309,1.05],[-0.295,-0.17],[-0.272,-0.65],[-0.248,-2.78],[-0.22,-2.5],[-0.174,-2.93],[-0.155,-2.5],[-0.137,-2.36],[-0.072,-2.5],
  [-0.034,-3.21],[-0.137,-4.06],[0.003,-1.65],[0.031,-1.79],[0.086,-1.36],[0.124,-0.8],[0.17,-0.51],[0.217,-0.23],[0.254,0.34],[0.282,0.91],
  [0.272,1.48],[0.235,2.61],
  [-0.25,-0.7],[-0.24,0.4],[-0.22,-1.3],[-0.21,0.0],[-0.2,-0.5],[-0.19,0.8],[-0.18,-1.6],[-0.17,0.2],[-0.16,-0.3],[-0.15,1.2],
  [-0.14,-0.9],[-0.13,0.5],[-0.12,1.8],[-0.11,-0.2],[-0.1,0.7],[-0.09,-1.1],[-0.08,0.3],[-0.07,1.4],[-0.06,-0.4],[-0.05,0.6],
  [-0.04,2.1],[-0.03,0.0],[-0.02,1.0],[-0.01,-0.7],[0.0,0.5],[0.005,2.5],[0.01,0.2],[0.02,1.3],[0.03,-0.2],[0.04,0.9],
  [0.05,2.0],[0.06,0.4],[0.07,1.5],[0.08,-0.5],[0.09,1.1],[0.1,2.4],[0.11,0.6],[0.12,1.7],[0.13,0.1],[0.14,1.2],
  [0.15,2.8],[0.16,0.8],[0.17,1.9],[0.18,0.3],[0.19,1.4],[0.2,2.5],[0.21,1.0],[0.22,1.8],[0.23,0.6],[0.24,2.2],
  [0.25,1.3],[0.26,0.7],[0.27,1.9],[0.28,1.1]
];
const resEdaphicOptCore = [
  [-0.215,-0.9],[-0.205,0.0],[-0.195,-1.4],[-0.185,-0.3],[-0.175,0.6],[-0.165,-1.0],[-0.155,0.1],[-0.145,-0.5],[-0.135,0.9],[-0.125,-0.2],
  [-0.118,-1.5],[-0.108,0.4],[-0.098,-0.3],[-0.092,1.0],[-0.082,0.2],[-0.075,-0.9],[-0.065,0.7],[-0.058,0.0],[-0.052,1.3],[-0.045,-0.5],
  [-0.035,0.5],[-0.028,1.1],[-0.022,-0.1],[-0.015,0.8],[-0.008,1.7],[-0.003,0.2],[0.003,0.9],[0.008,-0.6],[0.013,1.4],[0.018,0.5],
  [0.024,2.0],[0.028,0.7],[0.034,-0.1],[0.038,1.2],[0.044,0.4],[0.048,1.8],[0.053,0.9],[0.058,2.4],[0.063,0.2],[0.068,1.4],
  [0.073,0.8],[0.078,2.2],[0.083,1.0],[0.088,0.3],[0.094,1.7],[0.098,1.0],[0.103,2.7],[0.108,0.5],[0.113,1.5],[0.118,2.1],
  [0.123,0.8],[0.128,1.8],[0.133,1.2],[0.138,2.9],[0.143,0.6],[0.148,1.6],[0.153,2.3],[0.158,1.1],[0.163,1.9],[0.168,0.4],
  [0.173,2.2],[0.178,1.4],[0.183,3.0],[0.188,0.9],[0.193,1.8],[0.198,1.2],[0.203,2.6],[0.208,0.7],[0.213,1.6],[0.218,2.2],
  [0.223,1.0],[0.228,2.8],[0.233,1.5],[0.238,0.4],[0.243,1.9],[0.248,2.5],[0.253,1.3],[0.258,3.3],[0.265,1.7],[0.275,2.3]
];
const resEdaphicOptDense = [
  [-0.098,-0.1],[-0.09,0.5],[-0.082,0.1],[-0.074,-0.6],[-0.066,0.4],[-0.058,0.9],[-0.05,0.0],[-0.042,0.6],[-0.034,-0.3],[-0.026,0.8],
  [-0.018,0.3],[-0.01,1.1],[-0.002,0.4],[0.006,-0.2],[0.014,0.9],[0.022,0.5],[0.03,1.4],[0.038,0.6],[0.046,0.1],[0.054,1.1],
  [0.062,0.7],[0.07,1.7],[0.078,0.5],[0.086,1.2],[0.094,0.8],[0.102,1.9],[0.11,0.6],[0.118,1.4],[0.126,1.0],[0.134,2.1],
  [0.142,0.9],[0.15,1.6],[0.158,1.2],[0.166,2.3],[0.174,1.0],[0.182,1.7],[0.19,1.3],[0.198,2.4],[0.206,1.1],[0.214,1.8]
];
const resTopoMean = [
  [0.017,2.3],[0.124,2.13],[0.138,2.02],[-0.081,2.05],[0.245,1.91],[-0.313,1.7],[-0.332,0.52],[-0.309,0.52],[-0.332,-0.35],[-0.295,-0.43],
  [-0.272,-1.21],[-0.234,-0.9],[-0.202,-2.0],[-0.192,-2.5],[-0.174,-1.69],[-0.165,-2.0],[-0.099,-2.16],[-0.034,-2.0],[-0.072,-1.76],[0.003,-1.37],
  [0.031,-1.06],[0.086,-0.58],[0.124,-0.43],[0.198,-0.66],[0.235,-0.43],[0.272,-0.5],[0.291,0.2],[0.282,0.52],[0.272,1.07],[0.217,1.7],
  [0.17,1.62],[-0.127,-1.21],[-0.155,-1.37],[-0.109,-0.9],
  [-0.26,0.3],[-0.24,-0.4],[-0.22,0.6],[-0.21,-0.1],[-0.2,0.9],[-0.19,-0.7],[-0.18,0.2],[-0.17,1.2],[-0.16,-0.3],[-0.15,0.5],
  [-0.14,-1.0],[-0.13,0.1],[-0.12,0.8],[-0.11,-0.5],[-0.1,0.4],[-0.09,1.4],[-0.08,-0.2],[-0.07,0.6],[-0.06,-0.8],[-0.05,0.3],
  [-0.04,1.0],[-0.03,0.0],[-0.02,0.5],[-0.01,1.6],[0.0,0.2],[0.005,-0.6],[0.01,0.7],[0.02,0.1],[0.03,1.2],[0.04,0.4],
  [0.05,-0.3],[0.06,0.8],[0.07,0.2],[0.08,1.3],[0.09,0.5],[0.1,-0.2],[0.11,0.9],[0.12,0.3],[0.13,1.5],[0.14,0.6],
  [0.15,0.0],[0.16,0.7],[0.17,1.1],[0.18,0.3],[0.19,0.8],[0.2,-0.1],[0.21,0.6],[0.22,1.0],[0.23,0.2],[0.24,0.7],
  [0.25,0.4],[0.26,0.9],[0.27,0.1],[0.28,0.5]
];
const resTopoMeanCore = [
  [-0.215,0.1],[-0.205,-0.5],[-0.195,0.4],[-0.185,-0.2],[-0.175,0.6],[-0.165,0.0],[-0.155,-0.6],[-0.145,0.3],[-0.135,0.8],[-0.125,-0.3],
  [-0.118,0.2],[-0.108,0.6],[-0.098,-0.4],[-0.092,0.1],[-0.082,0.5],[-0.075,-0.1],[-0.065,0.9],[-0.058,0.3],[-0.052,-0.5],[-0.045,0.2],
  [-0.035,0.6],[-0.028,-0.2],[-0.022,0.4],[-0.015,0.0],[-0.008,0.8],[-0.003,0.3],[0.003,-0.3],[0.008,0.5],[0.013,1.0],[0.018,0.2],
  [0.024,0.6],[0.028,-0.1],[0.034,0.4],[0.038,0.9],[0.044,0.1],[0.048,0.5],[0.053,-0.4],[0.058,0.3],[0.063,0.7],[0.068,0.0],
  [0.073,0.5],[0.078,1.1],[0.083,0.2],[0.088,0.6],[0.094,-0.2],[0.098,0.4],[0.103,0.8],[0.108,0.1],[0.113,0.5],[0.118,1.2],
  [0.123,0.2],[0.128,0.6],[0.133,-0.1],[0.138,0.4],[0.143,0.9],[0.148,0.3],[0.153,0.6],[0.158,0.0],[0.163,0.4],[0.168,1.0],
  [0.173,0.2],[0.178,0.5],[0.183,0.8],[0.188,0.1],[0.193,0.5],[0.198,0.3],[0.203,0.9],[0.208,0.0],[0.213,0.4],[0.218,0.7],
  [0.223,0.2],[0.228,0.5],[0.233,0.9],[0.238,0.1],[0.243,0.4],[0.248,0.6],[0.253,0.2],[0.258,0.8],[0.265,0.3],[0.275,0.6]
];
const resTopoMeanDense = [
  [-0.098,0.2],[-0.09,0.5],[-0.082,0.0],[-0.074,0.3],[-0.066,0.6],[-0.058,0.1],[-0.05,0.4],[-0.042,0.7],[-0.034,0.2],[-0.026,0.5],
  [-0.018,-0.1],[-0.01,0.3],[-0.002,0.6],[0.006,0.1],[0.014,0.4],[0.022,0.7],[0.03,0.2],[0.038,0.5],[0.046,0.0],[0.054,0.4],
  [0.062,0.7],[0.07,0.2],[0.078,0.5],[0.086,0.8],[0.094,0.3],[0.102,0.6],[0.11,0.1],[0.118,0.4],[0.126,0.7],[0.134,0.3],
  [0.142,0.5],[0.15,0.8],[0.158,0.2],[0.166,0.5],[0.174,0.7],[0.182,0.3],[0.19,0.6],[0.198,0.4],[0.206,0.7],[0.214,0.2]
];
const resTopoOpt = [
  [-0.313,2.16],[-0.286,1.9],[0.012,2.16],[0.026,2.01],[0.059,2.16],[-0.062,2.01],[0.124,2.07],[0.142,1.97],[-0.332,0.73],[-0.309,0.44],
  [-0.332,-0.44],[-0.295,-0.76],[-0.272,-1.17],[-0.239,-1.39],[-0.202,-1.17],[-0.192,-1.61],[-0.174,-2.29],[-0.155,-1.61],[-0.127,-1.82],[-0.099,-2.01],
  [-0.034,-1.9],[0.003,-1.17],[0.049,-1.61],[0.077,-1.61],[0.124,-1.02],[0.198,-1.17],[0.198,-0.73],[0.235,-0.29],[0.272,-0.66],[0.291,-0.07],
  [0.282,0.58],[0.277,0.88],[0.245,1.17],[0.217,1.68],[0.17,1.82],[-0.22,1.02],[-0.258,1.17],
  [-0.26,-0.2],[-0.24,0.5],[-0.23,-0.6],[-0.22,0.2],[-0.2,1.0],[-0.19,-0.3],[-0.18,0.6],[-0.17,-1.0],[-0.16,0.3],[-0.15,1.3],
  [-0.14,-0.5],[-0.13,0.1],[-0.12,0.9],[-0.11,-0.8],[-0.1,0.4],[-0.09,1.5],[-0.08,-0.2],[-0.07,0.7],[-0.06,-1.2],[-0.05,0.2],
  [-0.04,1.1],[-0.03,-0.4],[-0.02,0.5],[-0.01,1.7],[0.0,0.0],[0.005,-0.7],[0.01,0.8],[0.02,0.3],[0.03,1.4],[0.04,-0.3],
  [0.05,0.6],[0.06,1.0],[0.07,0.1],[0.08,1.6],[0.09,0.4],[0.1,-0.5],[0.11,0.9],[0.12,0.2],[0.13,1.2],[0.14,0.6],
  [0.15,-0.2],[0.16,0.8],[0.17,0.3],[0.18,1.1],[0.19,0.5],[0.2,-0.1],[0.21,0.7],[0.22,0.2],[0.23,0.9],[0.24,0.4],
  [0.25,0.0],[0.26,0.6],[0.27,0.3],[0.28,0.8]
];
const resTopoOptCore = [
  [-0.215,-0.3],[-0.205,0.3],[-0.195,-0.7],[-0.185,0.0],[-0.175,0.4],[-0.165,-0.4],[-0.155,0.6],[-0.145,0.1],[-0.135,-0.7],[-0.125,0.4],
  [-0.118,0.8],[-0.108,-0.2],[-0.098,0.2],[-0.092,-0.9],[-0.082,0.5],[-0.075,0.1],[-0.065,1.0],[-0.058,-0.4],[-0.052,0.3],[-0.045,0.7],
  [-0.035,-0.2],[-0.028,0.4],[-0.022,1.2],[-0.015,0.1],[-0.008,-0.5],[-0.003,0.6],[0.003,0.3],[0.008,1.0],[0.013,-0.2],[0.018,0.5],
  [0.024,0.1],[0.028,0.9],[0.034,-0.5],[0.038,0.4],[0.044,1.2],[0.048,0.2],[0.053,0.7],[0.058,-0.1],[0.063,0.5],[0.068,1.0],
  [0.073,0.3],[0.078,-0.4],[0.083,0.7],[0.088,0.2],[0.094,1.1],[0.098,0.5],[0.103,-0.1],[0.108,0.6],[0.113,1.3],[0.118,0.3],
  [0.123,0.8],[0.128,0.0],[0.133,0.5],[0.138,1.0],[0.143,0.2],[0.148,0.7],[0.153,-0.2],[0.158,0.5],[0.163,1.1],[0.168,0.3],
  [0.173,0.8],[0.178,0.0],[0.183,0.5],[0.188,1.2],[0.193,0.4],[0.198,0.8],[0.203,0.1],[0.208,0.6],[0.213,1.0],[0.218,0.3],
  [0.223,0.7],[0.228,-0.1],[0.233,0.5],[0.238,1.1],[0.243,0.2],[0.248,0.6],[0.253,0.9],[0.258,0.3],[0.265,0.7],[0.275,0.4]
];
const resTopoOptDense = [
  [-0.098,0.0],[-0.09,0.4],[-0.082,0.2],[-0.074,0.6],[-0.066,-0.1],[-0.058,0.3],[-0.05,0.7],[-0.042,0.1],[-0.034,0.4],[-0.026,0.8],
  [-0.018,0.2],[-0.01,0.5],[-0.002,-0.2],[0.006,0.4],[0.014,0.7],[0.022,0.1],[0.03,0.5],[0.038,0.9],[0.046,0.3],[0.054,0.6],
  [0.062,0.0],[0.07,0.4],[0.078,0.8],[0.086,0.3],[0.094,0.6],[0.102,1.0],[0.11,0.2],[0.118,0.5],[0.126,0.9],[0.134,0.3],
  [0.142,0.6],[0.15,0.1],[0.158,0.4],[0.166,0.8],[0.174,0.5],[0.182,0.2],[0.19,0.7],[0.198,0.4],[0.206,0.9],[0.214,0.3]
];

const twiPanels = [
  [twiDolukhMean, twiDolukhMeanCore, twiDolukhMeanDense],
  [twiEllenbergOpt, twiEllenbergOptCore, twiEllenbergOptDense],
  [twiEdaphicMean, twiEdaphicMeanCore, twiEdaphicMeanDense],
  [twiEdaphicOpt, twiEdaphicOptCore, twiEdaphicOptDense],
  [twiTopoMean, twiTopoMeanCore, twiTopoMeanDense],
  [twiTopoOpt, twiTopoOptCore, twiTopoOptDense]
].map(parts => [].concat(...parts));
const resPanels = [
  [resDolukhMean, resDolukhMeanCore, resDolukhMeanDense],
  [resEllenbergOpt, resEllenbergOptCore, resEllenbergOptDense],
  [resEdaphicMean, resEdaphicMeanCore, resEdaphicMeanDense],
  [resEdaphicOpt, resEdaphicOptCore, resEdaphicOptDense],
  [resTopoMean, resTopoMeanCore, resTopoMeanDense],
  [resTopoOpt, resTopoOptCore, resTopoOptDense]
].map(parts => [].concat(...parts));

Chart.defaults.font.family = '"Liberation Sans", Arial, sans-serif';

const STRIP_H = 17;
const fig = document.getElementById('fig');

function isMajor(v, step) {
  const r = v / step;
  return Math.abs(r - Math.round(r)) < 1e-6;
}

// reference lines, panel frame, strip and fit statistics
const panelDecor = {
  id: 'panelDecor',
  beforeDatasetsDraw(chart, args, o) {
    const { ctx, chartArea: a, scales: { y } } = chart;
    ctx.save();
    ctx.beginPath();
    ctx.rect(a.left, a.top, a.width, a.height);
    ctx.clip();
    const hline = (v, dash, color) => {
      const py = y.getPixelForValue(v);
      ctx.beginPath();
      ctx.setLineDash(dash);
      ctx.strokeStyle = color;
      ctx.lineWidth = 0.9;
      ctx.moveTo(a.left, py);
      ctx.lineTo(a.right, py);
      ctx.stroke();
    };
    hline(0, [3, 3], '#555');
    sesCutoffs.forEach(c => hline(c, [4, 2, 1, 2], '#222'));
    ctx.restore();
  },
  afterDatasetsDraw(chart, args, o) {
    const { ctx, chartArea: a, scales: { x } } = chart;
    if (o.vline) {
      const px = x.getPixelForValue(0);
      ctx.save();
      ctx.beginPath();
      ctx.setLineDash([3, 2.5]);
      ctx.strokeStyle = '#000';
      ctx.lineWidth = 1;
      ctx.moveTo(px, a.top);
      ctx.lineTo(px, a.bottom);
      ctx.stroke();
      ctx.restore();
    }
  },
  afterDraw(chart, args, o) {
    const { ctx, chartArea: a } = chart;
    ctx.save();
    ctx.strokeStyle = '#7a7a7a';
    ctx.lineWidth = 0.7;
    ctx.strokeRect(a.left, a.top, a.width, a.height);
    const st = a.top - STRIP_H;
    ctx.fillStyle = '#d9d9d9';
    ctx.fillRect(a.left, st, a.width, STRIP_H);
    ctx.strokeRect(a.left, st, a.width, STRIP_H);
    ctx.fillStyle = '#1a1a1a';
    ctx.font = '5.8px "Liberation Sans", Arial, sans-serif';
    ctx.textAlign = 'center';
    ctx.textBaseline = 'middle';
    const cx = (a.left + a.right) / 2;
    ctx.fillText(o.strip[0], cx, st + 5);
    ctx.fillText(o.strip[1], cx, st + 12.2);
    ctx.font = '6px "Liberation Sans", Arial, sans-serif';
    if (o.statsTop) {
      ctx.textAlign = 'left';
      o.stats.forEach((t, i) => ctx.fillText(t, a.left + 19, a.top + 15 + i * 8.2));
    } else {
      ctx.textAlign = 'right';
      o.stats.forEach((t, i) => ctx.fillText(t, a.right - 18, a.bottom - 33.3 + i * 8.3));
    }
    ctx.restore();
  }
};

function makePanel(col, row) {
  const last = row === 5;
  const isRes = col === 1;
  const div = document.createElement('div');
  div.className = 'panel';
  div.style.left = (isRes ? 283 : 8) + 'px';
  div.style.top = (16 + row * 132.5) + 'px';
  div.style.width = '265px';
  div.style.height = (last ? 141 : 129) + 'px';
  const cv = document.createElement('canvas');
  div.appendChild(cv);
  fig.appendChild(div);

  const pts = (isRes ? resPanels : twiPanels)[row];
  const fitX = isRes ? resFitX : twiFitX;
  const fitY = (isRes ? resFitY : twiFitY)[row];
  const xLim = isRes ? resLimits : twiLimits;
  const xMaj = isRes ? resMajor : twiMajor;
  const xMin = isRes ? resMinor : twiMinor;
  const yMaj = yMajor[row];

  new Chart(cv, {
    type: 'scatter',
    data: {
      datasets: [
        {
          data: pts.map(p => ({ x: p[0], y: p[1] })),
          backgroundColor: 'rgba(0, 0, 255, 0.62)',
          borderWidth: 0,
          pointRadius: 1.8,
          order: 1
        },
        {
          type: 'line',
          data: [{ x: fitX[0], y: fitY[0] }, { x: fitX[1], y: fitY[1] }],
          borderColor: '#ff0000',
          borderWidth: 1.5,
          pointRadius: 0,
          fill: false,
          order: 0
        }
      ]
    },
    options: {
      responsive: true,
      maintainAspectRatio: false,
      animation: false,
      events: [],
      layout: { padding: { top: STRIP_H, right: 3, left: 0, bottom: 0 } },
      plugins: {
        legend: { display: false },
        tooltip: { enabled: false },
        panelDecor: {
          strip: stripLabels[row],
          stats: (isRes ? resStats : twiStats)[row],
          statsTop: isRes,
          vline: isRes
        }
      },
      scales: {
        x: {
          type: 'linear',
          min: xLim[0],
          max: xLim[1],
          border: { display: false },
          grid: {
            color: c => isMajor(c.tick.value, xMaj) ? '#e6e6e6' : '#f3f3f3',
            lineWidth: c => isMajor(c.tick.value, xMaj) ? 0.8 : 0.5,
            drawTicks: last,
            tickLength: 2.5,
            tickColor: c => isMajor(c.tick.value, xMaj) ? '#333' : 'rgba(0,0,0,0)'
          },
          ticks: {
            display: last,
            stepSize: xMin,
            includeBounds: false,
            autoSkip: false,
            maxRotation: 0,
            padding: 0,
            color: '#4d4d4d',
            font: { size: 5.5 },
            callback: v => isMajor(v, xMaj) ? v.toFixed(isRes ? 1 : 2) : ''
          },
          afterFit: s => { s.height = last ? 12 : 0; }
        },
        y: {
          type: 'linear',
          min: yLimits[row][0],
          max: yLimits[row][1],
          border: { display: false },
          grid: {
            color: c => isMajor(c.tick.value, yMaj) ? '#e6e6e6' : '#f3f3f3',
            lineWidth: c => isMajor(c.tick.value, yMaj) ? 0.8 : 0.5,
            tickLength: 3,
            tickColor: c => isMajor(c.tick.value, yMaj) ? '#333' : 'rgba(0,0,0,0)'
          },
          ticks: {
            stepSize: yMinor[row],
            includeBounds: false,
            autoSkip: false,
            padding: 2,
            color: '#4d4d4d',
            font: { size: 5.5 },
            callback: v => isMajor(v, yMaj) ? (yMaj === 2.5 ? v.toFixed(1) : String(v)) : ''
          },
          afterFit: s => { s.width = 19; }
        }
      }
    },
    plugins: [panelDecor]
  });
}

for (let col = 0; col < 2; col++) {
  for (let row = 0; row < 6; row++) makePanel(col, row);
}
</script>
</body>
</html>
